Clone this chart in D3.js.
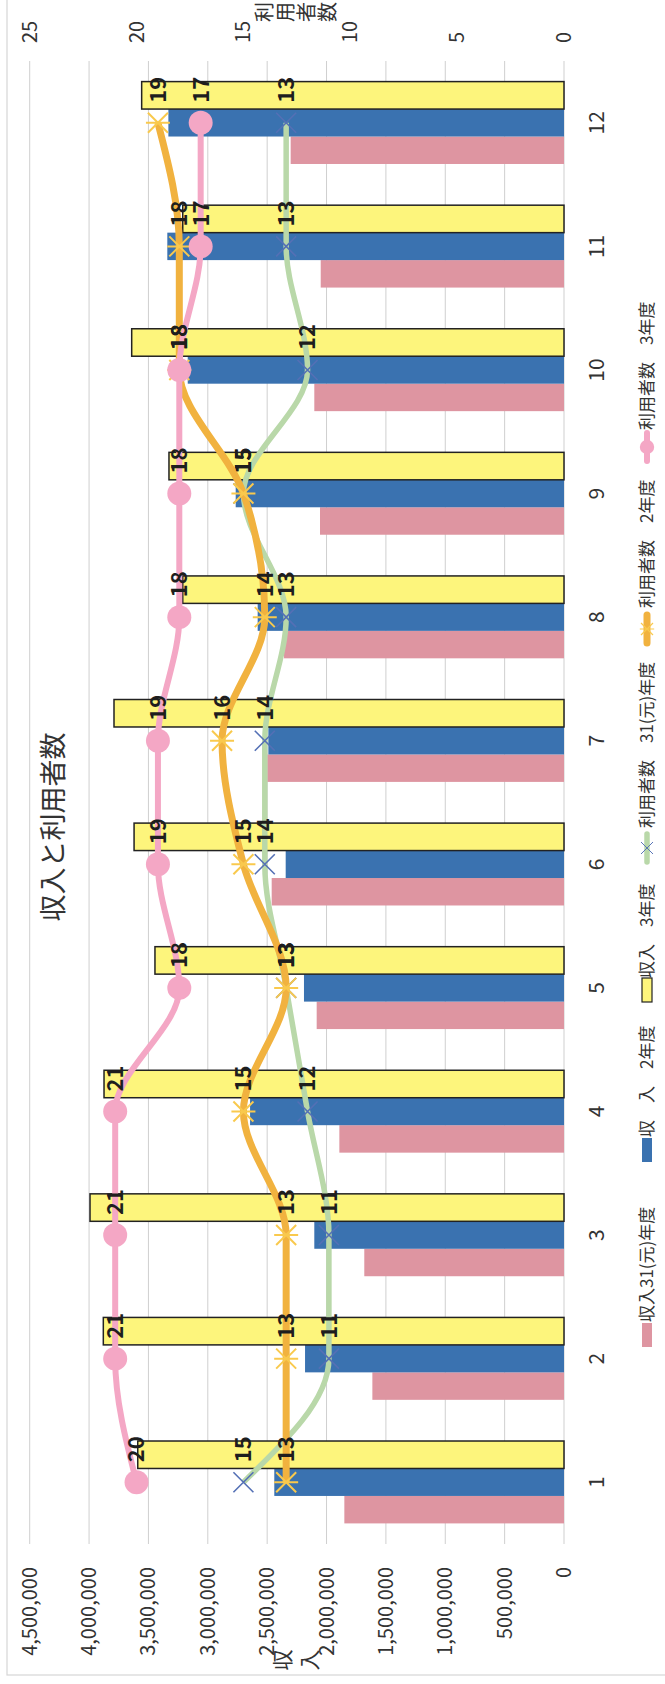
<!DOCTYPE html>
<html>
<head>
<meta charset="utf-8">
<script src="https://cdn.jsdelivr.net/npm/d3@7/dist/d3.min.js"></script>
<style>
  html, body { margin: 0; padding: 0; background: #fff; }
  text { font-family: "Noto Sans CJK JP", "Noto Sans", sans-serif; fill: #333; }
</style>
</head>
<body>
<div id="root"></div>
<script>
// chart is drawn upright in a 1684x665 frame, then turned -90deg (scanned page)
const categories = ['1', '2', '3', '4', '5', '6', '7', '8', '9', '10', '11', '12'];
const incomeR1 = [1850000, 1614000, 1682000, 1892000, 2083000, 2462000, 2499000, 2358000, 2055000, 2103000, 2049000, 2302000];
const incomeR2 = [2440000, 2181000, 2103000, 2644000, 2190000, 2344000, 2490000, 2580000, 2765000, 3169000, 3341000, 3332000];
const incomeR3 = [3590000, 3880000, 3992000, 3874000, 3445000, 3621000, 3790000, 3211000, 3327000, 3641000, 3211000, 3557000];
const usersR1 = [15, 11, 11, 12, 13, 14, 14, 13, 15, 12, 13, 13];
const usersR2 = [13, 13, 13, 15, 13, 15, 16, 14, 15, 18, 18, 19];
const usersR3 = [20, 21, 21, 21, 18, 19, 19, 18, 18, 18, 17, 17];
const leftTicks = d3.range(0, 4500001, 500000);
const rightTicks = [0, 5, 10, 15, 20, 25];

const frameW = 1684;
const frameH = 665;
const plotLeft = 140;
const plotRight = 1623;
const plotTop = 29.7;
const plotBottom = 564;

const barSeries = [
  { name: '収入31(元)年度', values: incomeR1, color: '#de95a1' },
  { name: '収　入　2年度', values: incomeR2, color: '#3a72b0' },
  { name: '収入　3年度', values: incomeR3, color: '#fdf57c', stroke: '#222' },
];
const lineSeries = [
  { name: '利用者数　31(元)年度', values: usersR1, color: '#b9d8a9', width: 5.5, marker: 'x' },
  { name: '利用者数　2年度', values: usersR2, color: '#f1b23f', width: 7, marker: 'star' },
  { name: '利用者数　3年度', values: usersR3, color: '#f4a7c5', width: 6, marker: 'circle' },
];

const svg = d3.select('#root')
  .append('svg')
  .attr('width', frameH)
  .attr('height', frameW);

const g = svg.append('g')
  .attr('transform', `translate(0, ${ frameW }) rotate(-90)`);

g.append('rect')
  .attr('x', 9)
  .attr('y', 7)
  .attr('width', frameW)
  .attr('height', frameH)
  .style('fill', 'none')
  .style('stroke', '#d6d6d6')
  .style('stroke-width', '1.2px');

const x0 = d3.scaleBand()
  .domain(categories)
  .range([plotLeft, plotRight])
  .paddingInner(1 / 3)
  .paddingOuter(1 / 6);
const x1 = d3.scaleBand()
  .domain(d3.range(barSeries.length))
  .range([0, x0.bandwidth()]);
const y = d3.scaleLinear().domain([0, 4500000]).range([plotBottom, plotTop]);
const y2 = d3.scaleLinear().domain([0, 25]).range([plotBottom, plotTop]);
const cx = (c) => x0(c) + (x0.bandwidth() / 2);

// grid
g.selectAll('.grid')
  .data(leftTicks)
  .enter()
  .append('line')
  .attr('x1', plotLeft)
  .attr('x2', plotRight)
  .attr('y1', (d) => y(d))
  .attr('y2', (d) => y(d))
  .style('stroke', '#cfcfcf')
  .style('stroke-width', '1px');

// left axis labels
g.selectAll('.ltick')
  .data(leftTicks)
  .enter()
  .append('text')
  .attr('x', 117)
  .attr('y', (d) => y(d))
  .attr('dy', '0.35em')
  .attr('text-anchor', 'end')
  .attr('font-size', '20px')
  .text((d) => d3.format(',')(d));

// right axis labels
g.selectAll('.rtick')
  .data(rightTicks)
  .enter()
  .append('text')
  .attr('x', 1641)
  .attr('y', (d) => y2(d))
  .attr('dy', '0.35em')
  .attr('font-size', '20px')
  .text((d) => d);

// category labels
g.selectAll('.cat')
  .data(categories)
  .enter()
  .append('text')
  .attr('x', (d) => cx(d))
  .attr('y', 597)
  .attr('dy', '0.35em')
  .attr('text-anchor', 'middle')
  .attr('font-size', '21px')
  .text((d) => d);

// bars
barSeries.forEach((s, si) => {
  g.selectAll(`.bar${ si }`)
    .data(s.values)
    .enter()
    .append('rect')
    .attr('x', (_d, i) => x0(categories[i]) + x1(si))
    .attr('y', (d) => y(d))
    .attr('width', x1.bandwidth())
    .attr('height', (d) => plotBottom - y(d))
    .style('fill', s.color)
    .style('stroke', s.stroke || 'none')
    .style('stroke-width', '1.5px');
});

function drawMarker(sel, type, color) {
  if (type === 'circle') {
    sel.append('circle').attr('r', 12).style('fill', color);
  } else if (type === 'star') {
    const r = 10;
    sel.append('path')
      .attr('d', `M${ -r },${ -r }L${ r },${ r }M${ -r },${ r }L${ r },${ -r }M0,${ -r * 1.2 }L0,${ r * 1.2 }`)
      .style('stroke', '#f9c94d')
      .style('stroke-width', '2px');
  } else {
    const r = 10;
    sel.append('path')
      .attr('d', `M${ -r },${ -r }L${ r },${ r }M${ -r },${ r }L${ r },${ -r }`)
      .style('stroke', '#5470b5')
      .style('stroke-width', '1.6px');
  }
}

const line = d3.line()
  .curve(d3.curveMonotoneX)
  .x((_d, i) => cx(categories[i]))
  .y((d) => y2(d));

lineSeries.forEach((s) => {
  g.append('path')
    .attr('d', line(s.values))
    .style('fill', 'none')
    .style('stroke', s.color)
    .style('stroke-width', `${ s.width }px`)
    .style('stroke-linejoin', 'round');
  s.values.forEach((v, i) => {
    const m = g.append('g')
      .attr('transform', `translate(${ cx(categories[i]) },${ y2(v) })`);
    drawMarker(m, s.marker, s.color);
  });
});

// data labels
lineSeries.forEach((s) => {
  g.selectAll(null)
    .data(s.values)
    .enter()
    .append('text')
    .attr('x', (_d, i) => cx(categories[i]) + 20)
    .attr('y', (d) => y2(d))
    .attr('dy', '0.36em')
    .attr('font-size', '22px')
    .attr('font-weight', 'bold')
    .style('fill', '#1e1e1e')
    .text((d) => d);
});

// titles
g.append('text')
  .attr('x', 857)
  .attr('y', 54)
  .attr('dy', '0.35em')
  .attr('text-anchor', 'middle')
  .attr('font-size', '27px')
  .text('収入と利用者数');

g.append('text')
  .attr('x', 24)
  .attr('y', 283)
  .attr('text-anchor', 'middle')
  .attr('font-size', '21px')
  .selectAll('tspan')
  .data(['収', '入'])
  .enter()
  .append('tspan')
  .attr('x', 24)
  .attr('dy', (_d, i) => (i === 0 ? '0.35em' : '1.25em'))
  .text((d) => d);

g.append('text')
  .attr('x', 1672)
  .attr('y', 265)
  .attr('text-anchor', 'middle')
  .attr('font-size', '20px')
  .selectAll('tspan')
  .data(['利', '用', '者', '数'])
  .enter()
  .append('tspan')
  .attr('x', 1672)
  .attr('dy', (_d, i) => (i === 0 ? '0.35em' : '1.05em'))
  .text((d) => d);

// legend
const legendY = 647;
const swatchAt = [349, 534, 694, 836, 1055, 1237];
const textAt = [362, 547, 706, 856, 1076, 1254];
const legendItems = barSeries.map((s) => ({ ...s, kind: 'bar' }))
  .concat(lineSeries.map((s) => ({ ...s, kind: 'line' })));

legendItems.forEach((s, i) => {
  const item = g.append('g');
  if (s.kind === 'bar') {
    item.append('rect')
      .attr('x', swatchAt[i] - 12)
      .attr('y', legendY - 5)
      .attr('width', 24)
      .attr('height', 10)
      .style('fill', s.color)
      .style('stroke', s.stroke || 'none')
      .style('stroke-width', '1.2px');
  } else {
    item.append('line')
      .attr('x1', swatchAt[i] - 14)
      .attr('x2', swatchAt[i] + 14)
      .attr('y1', legendY)
      .attr('y2', legendY)
      .style('stroke', s.color)
      .style('stroke-width', `${ s.width }px`)
      .style('stroke-linecap', 'round');
    const m = item.append('g')
      .attr('transform', `translate(${ swatchAt[i] },${ legendY }) scale(0.6)`);
    drawMarker(m, s.marker, s.color);
  }
  item.append('text')
    .attr('x', textAt[i])
    .attr('y', legendY)
    .attr('dy', '0.35em')
    .attr('font-size', '17px')
    .text(s.name);
});
</script>
</body>
</html>
